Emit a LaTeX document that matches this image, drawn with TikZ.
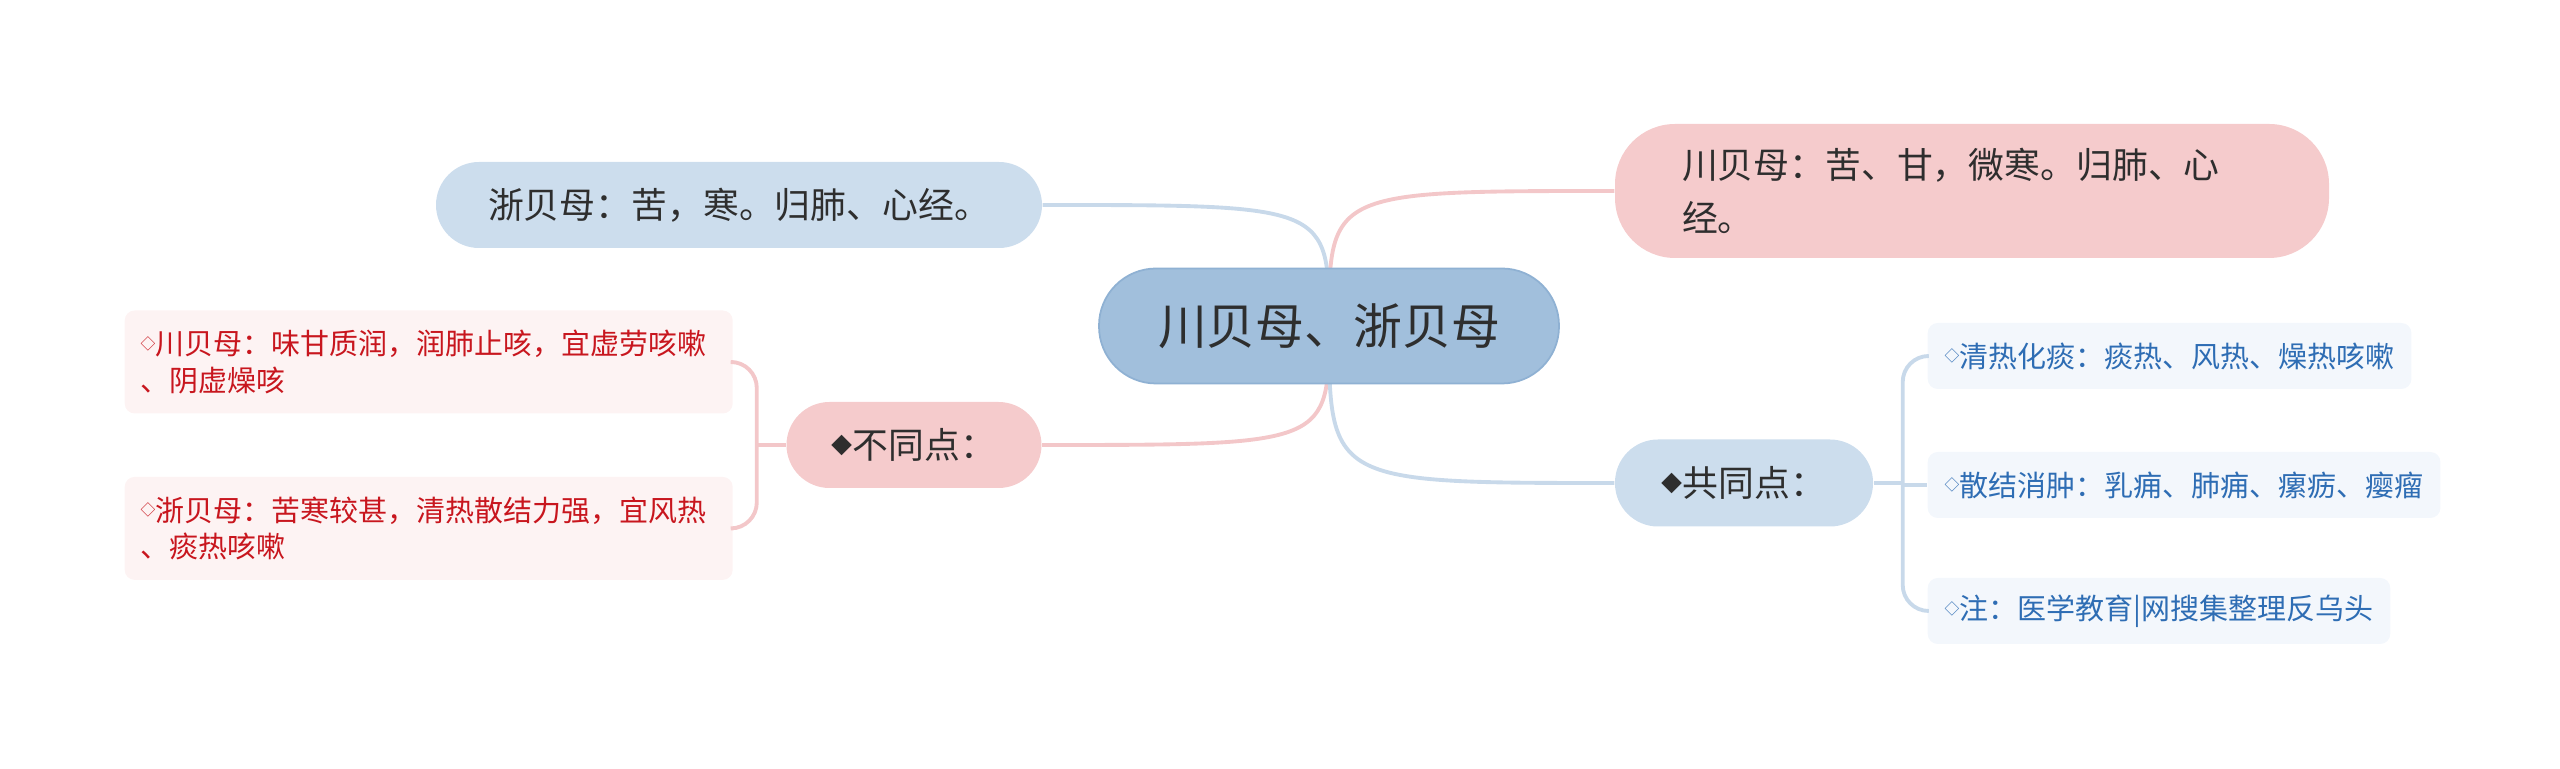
\documentclass[tikz,border=0pt]{standalone}
\usepackage{fontspec}
\setmainfont{Noto Sans CJK SC}
\usepackage{tikz}
\usetikzlibrary{positioning,calc,backgrounds}
\definecolor{MapRoot}{HTML}{A1BFDC}
\definecolor{MapRootEdge}{HTML}{8FB1D3}
\definecolor{MapSky}{HTML}{CCDDED}
\definecolor{MapRose}{HTML}{F5CBCC}
\definecolor{MapRoseLeaf}{HTML}{FDF3F3}
\definecolor{MapSkyLeaf}{HTML}{F3F7FC}
\definecolor{MapRed}{HTML}{C8161E}
\definecolor{MapBlue}{HTML}{2E6DB4}
\definecolor{MapInk}{HTML}{2E2E2E}
\definecolor{MapRoseLine}{HTML}{F3C7C9}
\definecolor{MapSkyLine}{HTML}{C8D9EA}
\newcommand{\leafmark}{\raisebox{0.18em}{\fontsize{4.2pt}{4.2pt}\selectfont ◇}}
\newcommand{\branchmark}{\raisebox{0.14em}{\fontsize{6pt}{6pt}\selectfont ◆}}

\begin{document}
\begin{tikzpicture}[x=1cm, y=-1cm, every node/.style={inner sep=0pt, text=MapInk}, root/.style={fill=MapRoot, draw=MapRootEdge, line width=0.5pt, rounded corners=0.57cm, minimum width=4.60cm, minimum height=1.15cm, font=\fontsize{13.9pt}{16pt}\selectfont}, topic/.style={rounded corners=0.43cm, minimum height=0.86cm, font=\fontsize{10.2pt}{15.3pt}\selectfont}, leaf/.style={rounded corners=0.1cm, minimum height=0.66cm, anchor=west, align=left, font=\fontsize{8.25pt}{10.5pt}\selectfont}, roseline/.style={draw=MapRoseLine, line width=1.1pt}, skyline/.style={draw=MapSkyLine, line width=1.1pt}]
\useasboundingbox (0,0) rectangle (25.6,7.69);
\node[root] (root) at (13.29,3.26) {川贝母、浙贝母};
\node[topic, fill=MapSky, minimum width=6.06cm] (zhe) at (7.39,2.05) {浙贝母：苦，寒。归肺、心经。};
\node[topic, fill=MapRose, minimum width=7.14cm, minimum height=1.34cm, rounded corners=0.6cm, text width=5.8cm, align=left] (chuan) at (19.72,1.91) {川贝母：苦、甘，微寒。归肺、心\\经。};
\node[topic, fill=MapRose, minimum width=2.55cm] (diff) at (9.14,4.45) {\branchmark 不同点：};
\node[topic, fill=MapSky, minimum width=2.58cm, minimum height=0.87cm] (same) at (17.44,4.83) {\branchmark 共同点：};
% left side: differences
\node[leaf, fill=MapRoseLeaf, text=MapRed, minimum width=6.08cm, minimum height=1.03cm, text width=5.76cm] (dl1) at (1.24,3.62) {\leafmark 川贝母：味甘质润，润肺止咳，宜虚劳咳嗽\\、阴虚燥咳};
\node[leaf, fill=MapRoseLeaf, text=MapRed, minimum width=6.08cm, minimum height=1.03cm, text width=5.76cm] (dl2) [below=0.62cm of dl1] {\leafmark 浙贝母：苦寒较甚，清热散结力强，宜风热\\、痰热咳嗽};
% right side: common points
\node[leaf, fill=MapSkyLeaf, text=MapBlue, inner xsep=0.17cm] (sr1) at (19.27,3.56) {\leafmark 清热化痰：痰热、风热、燥热咳嗽};
\node[leaf, fill=MapSkyLeaf, text=MapBlue, inner xsep=0.17cm] (sr2) at (19.27,4.85) {\leafmark 散结消肿：乳痈、肺痈、瘰疬、瘿瘤};
\node[leaf, fill=MapSkyLeaf, text=MapBlue, inner xsep=0.17cm] (sr3) at (19.27,6.11) {\leafmark 注：医学教育|网搜集整理反乌头};
\coordinate (lfork) at ($(diff.west)+(-0.29,0)$);
\coordinate (rfork) at ($(same.east)+(0.29,0)$);
\begin{scope}[on background layer]
\draw[skyline] (root.center) .. controls (root.center |- zhe.east) .. (zhe.east);
\draw[roseline] (root.center) .. controls (root.center |- chuan.west) .. (chuan.west);
\draw[roseline] (root.center) .. controls (root.center |- diff.east) .. (diff.east);
\draw[skyline] (root.center) .. controls (root.center |- same.west) .. (same.west);
\end{scope}
\draw[roseline] (diff.west) -- (lfork);
\draw[roseline, rounded corners=0.26cm] (dl1.east) -| (lfork) |- (dl2.east);
\draw[skyline] (same.east) -- (rfork);
\draw[skyline, rounded corners=0.26cm] (sr1.west) -| (rfork) |- (sr3.west);
\draw[skyline] (rfork |- sr2.west) -- (sr2.west);
\end{tikzpicture}
\end{document}
